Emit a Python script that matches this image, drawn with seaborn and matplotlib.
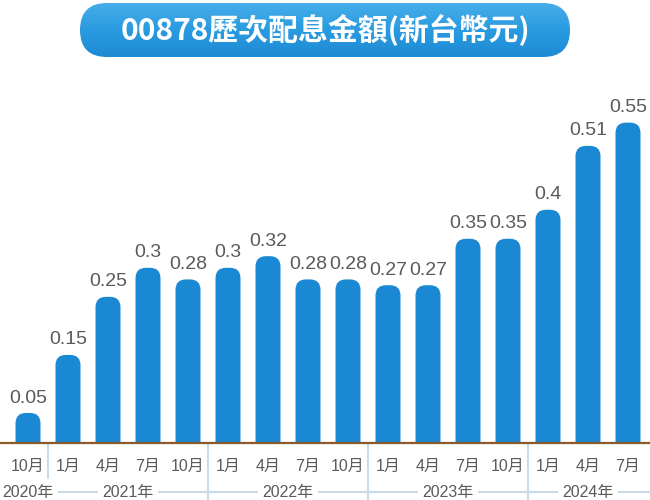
import matplotlib
matplotlib.use("Agg")
import matplotlib.pyplot as plt
import matplotlib.transforms as mtransforms
from matplotlib.patches import FancyBboxPatch
from matplotlib.colors import LinearSegmentedColormap
import numpy as np
import pandas as pd
import seaborn as sns

# data
periods = ['2020-10', '2021-01', '2021-04', '2021-07', '2021-10', '2022-01', '2022-04', '2022-07',
           '2022-10', '2023-01', '2023-04', '2023-07', '2023-10', '2024-01', '2024-04', '2024-07']
month_labels = ['10月', '1月', '4月', '7月', '10月', '1月', '4月', '7月',
                '10月', '1月', '4月', '7月', '10月', '1月', '4月', '7月']
year_of_bar = ['2020', '2021', '2021', '2021', '2021', '2022', '2022', '2022',
               '2022', '2023', '2023', '2023', '2023', '2024', '2024', '2024']
dividends = [0.05, 0.15, 0.25, 0.3, 0.28, 0.3, 0.32, 0.28,
             0.28, 0.27, 0.27, 0.35, 0.35, 0.4, 0.51, 0.55]
title = '00878歷次配息金額(新台幣元)'

BAR_COLOR = '#1a88d2'
TEXT_COLOR = '#5a5a5a'
SEP_COLOR = '#cbdae7'
BASE_COLOR = '#8b5a2b'

sns.set_theme(style='white')
plt.rcParams['font.family'] = ['Liberation Sans', 'Noto Sans CJK TC', 'DejaVu Sans']

df = pd.DataFrame({'period': periods, 'value': dividends, 'year': year_of_bar})

fig = plt.figure(figsize=(6.5, 5), dpi=100)
ax = fig.add_axes([8 / 650, 58 / 500, 640 / 650, 360 / 500])

sns.barplot(data=df, x='period', y='value', color=BAR_COLOR, width=0.625,
            saturation=1, ax=ax)
ax.set_xlim(-0.5, 15.5)
ax.set_ylim(0, 0.62)

# swap plain bars for bars with rounded tops
aspect = (0.62 / 360) / (16 / 640)
for p in list(ax.patches):
    x, w, h = p.get_x(), p.get_width(), p.get_height()
    p.remove()
    rb = FancyBboxPatch((x, -0.03), w, h + 0.03,
                        boxstyle='round,pad=0,rounding_size=0.26',
                        mutation_aspect=aspect, fc=BAR_COLOR, ec='none', zorder=2)
    ax.add_patch(rb)

for i, v in enumerate(dividends):
    ax.annotate(str(v), (i, v), xytext=(0, 7.5), textcoords='offset points',
                ha='center', va='baseline', fontsize=14, color=TEXT_COLOR)

ax.set_xticks(range(len(periods)))
ax.set_xticklabels(month_labels, fontsize=11.5, color=TEXT_COLOR)
ax.tick_params(axis='x', length=0, pad=12)
ax.set_yticks([])
ax.set_xlabel('')
ax.set_ylabel('')
sns.despine(ax=ax, left=True, bottom=True)

# brown baseline over full width
fig.add_artist(plt.Line2D([0, 1], [57 / 500, 57 / 500], color=BASE_COLOR, lw=1.6))

# year grouping under the months
blend = mtransforms.blended_transform_factory(ax.transData, fig.transFigure)
ax.plot([-0.7, 15.6], [8 / 500, 8 / 500], color=SEP_COLOR, lw=1.5,
        transform=blend, clip_on=False)
years = list(dict.fromkeys(year_of_bar))
for k, yr in enumerate(years):
    idx = [i for i, y in enumerate(year_of_bar) if y == yr]
    ax.text(np.mean(idx), 8 / 500, yr + '年', transform=blend, ha='center', va='center',
            fontsize=11.5, color=TEXT_COLOR,
            bbox=dict(fc='white', ec='none', pad=3.5))
    if k > 0:
        x_sep = idx[0] - 0.5
        y_end = 22 / 500 if k == 1 else 0
        ax.plot([x_sep, x_sep], [56 / 500, y_end], color=SEP_COLOR, lw=1.5,
                transform=blend, clip_on=False)

# title pill with a soft vertical gradient
tax = fig.add_axes([80 / 650, 443 / 500, 490 / 650, 54 / 500])
tax.set_xlim(0, 490)
tax.set_ylim(0, 54)
tax.axis('off')
pill = FancyBboxPatch((0, 0), 490, 54, boxstyle='round,pad=0,rounding_size=27',
                      fc='none', ec='none')
tax.add_patch(pill)
grad = LinearSegmentedColormap.from_list('pill', ['#1d8ad4', '#2a9be0', '#46ade9'])
img = tax.imshow(np.linspace(0, 1, 64).reshape(-1, 1), cmap=grad, origin='lower',
                 extent=(0, 490, 0, 54), aspect='auto')
img.set_clip_path(pill)
tax.text(245, 27, title, ha='center', va='center', color='white', fontsize=21.5,
         fontweight='bold', family=['Noto Sans CJK TC', 'DejaVu Sans'])

fig.savefig('out.png', dpi=100)
